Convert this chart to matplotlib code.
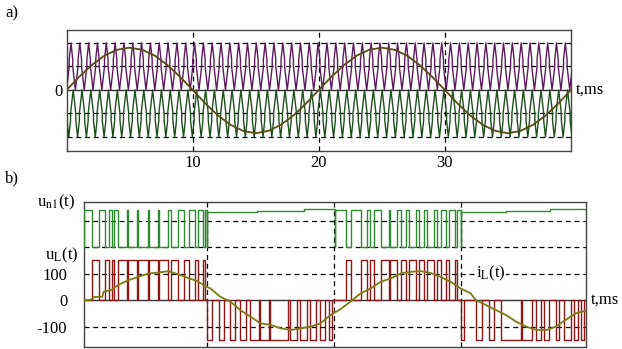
import numpy as np
import matplotlib
matplotlib.use("Agg")
import matplotlib.pyplot as plt

plt.rcParams['font.family'] = ['Liberation Serif', 'DejaVu Serif']
plt.rcParams['mathtext.fontset'] = 'stix'
FS = 12

# ---- panel a data ----
t_ref = list(range(0, 41))
ref_sine = [0, 0.56, 1.06, 1.46, 1.71, 1.8, 1.71, 1.46, 1.06, 0.56,
            0, -0.57, -1.08, -1.48, -1.74, -1.84, -1.74, -1.48, -1.08, -0.57,
            0, 0.56, 1.06, 1.46, 1.71, 1.8, 1.71, 1.46, 1.06, 0.56,
            0, -0.57, -1.08, -1.48, -1.74, -1.84, -1.74, -1.48, -1.08, -0.57, 0]
carrier_period = 0.7   # ms
carrier_shape_x = [0, 0.3, 0.3, 0.5, 0.7, 0.7, 1.0]
carrier_shape_y = [0, 1.0, 1.3, 2.0, 1.3, 1.0, 0]

# ---- panel b data ----
green_on_1 = [(0.25, 0.85), (1.44, 1.91), (2.23, 2.44), (2.65, 2.96), (3.68, 3.74),
              (4.47, 4.52), (5.32, 5.37), (6.11, 6.16), (6.86, 7.13), (7.71, 8.18),
              (8.55, 9.03), (9.29, 9.68), (9.82, 10.0)]
green_on_3 = [(20.04, 20.91), (21.36, 22.1), (22.62, 22.83), (23.15, 23.68), (24.38, 24.44),
              (25.0, 25.26), (25.65, 25.91), (26.44, 26.7), (27.1, 27.37), (27.89, 28.16),
              (28.42, 28.81), (29.07, 29.52), (29.74, 30.0)]
green_flat = [(10.0, 13.9, 333), (13.9, 17.6, 337), (17.6, 20.04, 342),
              (30.0, 33.6, 333), (33.6, 37.1, 337), (37.1, 39.9, 342)]
red_neg_2 = [(10.0, 10.37), (10.9, 11.29), (11.82, 12.21), (12.56, 13.08), (13.35, 14.06),
             (14.14, 14.85), (14.98, 16.35), (16.51, 17.09), (17.35, 17.83), (18.14, 18.54),
             (18.93, 19.25), (19.59, 19.86)]
red_neg_4 = [(30.0, 30.26), (31.19, 31.72), (32.24, 32.63), (33.16, 34.74), (34.88, 35.67),
             (35.93, 36.32), (36.59, 36.98), (37.51, 37.77), (38.17, 38.7), (38.97, 39.24),
             (39.49, 39.75)]
t_iL = [0.25, 0.75, 1.1, 1.7, 1.8, 2.4, 2.96, 3.76, 4.55, 5.34, 6.13, 6.92, 7.71, 8.2, 9.16,
        9.95, 10.24, 11.03, 11.82, 12.6, 13.4, 14.2, 15.0, 15.8, 16.6, 17.35, 18.14, 18.93,
        19.72, 20.5, 21.3, 22.1, 22.9, 23.7, 24.5, 25.3, 26.1, 26.9, 27.7, 28.4, 29.2, 30.0,
        30.8, 31.2, 32.0, 32.8, 33.6, 34.4, 35.2, 36.0, 36.8, 37.5, 38.3, 39.1, 39.9]
iL = [0, 0, 12, 12, 31, 38, 57, 75, 88, 100, 104, 109, 97, 88, 72,
      50, 44, 12, -6, -38, -63, -88, -94, -107, -113, -107, -101, -88,
      -57, -35, -6, 25, 44, 69, 82, 101, 107, 109, 101, 88, 69, 44,
      25, 0, -19, -38, -57, -82, -101, -113, -113, -101, -75, -50, -40]


def pulses(intervals, lo, hi):
    xs, ys = [], []
    for a, b in intervals:
        xs += [a, a, b, b]
        ys += [lo, hi, hi, lo]
    return xs, ys


def complement(intervals, start, stop):
    out = []
    prev = start
    for a, b in intervals:
        if a > prev:
            out.append((prev, a))
        prev = b
    if prev < stop:
        out.append((prev, stop))
    return out


fig = plt.figure(figsize=(6.22, 3.49), dpi=100)
grid_kw = dict(color='black', lw=0.9, ls=(0, (4, 3)), zorder=1)

# ---------------- panel a ----------------
ax1 = fig.add_axes([0.107, 0.567, 0.811, 0.347])
ax1.set_xlim(0, 40)
ax1.set_ylim(-2.6, 2.55)
for lev in [-2, -1, 1, 2]:
    ax1.axhline(lev, **grid_kw)
for tv in [10, 20, 30]:
    ax1.axvline(tv, **grid_kw)
ax1.axhline(0, color='#333333', lw=1.0, zorder=2)

n_per = int(40 / carrier_period) + 2
cx, cy = [], []
for k in range(n_per):
    for sx, sy in zip(carrier_shape_x, carrier_shape_y):
        cx.append((k + sx) * carrier_period)
        cy.append(sy)
cx = np.array(cx)
cy = np.array(cy)
ax1.plot(cx, cy, color='#5e1a5e', lw=1.0, zorder=3)
ax1.plot(cx - 0.25 * carrier_period, -cy, color='#1e4f1e', lw=1.0, zorder=3)
ax1.plot(t_ref, ref_sine, color='#5a4a14', lw=1.3, zorder=4)

ax1.set_xticks([10, 20, 30])
ax1.set_xticklabels(['10', '20', '30'], fontsize=FS)
ax1.set_yticks([0])
ax1.set_yticklabels(['0'], fontsize=FS)
ax1.tick_params(length=0, pad=3)
for s in ax1.spines.values():
    s.set_color('#444444')
    s.set_linewidth(1.0)
ax1.text(40.4, 0, 't,ms', fontsize=FS, va='center', ha='left')
fig.text(0.008, 0.962, 'a)', fontsize=FS, va='center')

# ---------------- panel b ----------------
ax2 = fig.add_axes([0.135, 0.006, 0.807, 0.415])
ax2.set_xlim(0.25, 39.9)
ax2.set_ylim(-177, 370)
for lev in [-100, 100, 200, 300]:
    ax2.axhline(lev, **grid_kw)
for tv in [10, 20, 30]:
    ax2.axvline(tv, **grid_kw)
ax2.axhline(0, color='#333333', lw=1.0, zorder=2)

# u_n1(t)
gx, gy = [0.25], [200]
for iv, (a, b) in zip([green_on_1, None, green_on_3, None],
                      [(0.25, 10.0), (10.0, 20.04), (20.04, 30.0), (30.0, 39.9)]):
    if iv is not None:
        px, py = pulses(iv, 200, 340)
        gx += px
        gy += py
    else:
        for fa, fb, fl in green_flat:
            if fa >= a - 1e-9 and fb <= b + 1e-9:
                gx += [fa, fb]
                gy += [fl, fl]
ax2.plot(gx, gy, color='#2e8a2e', lw=1.0, zorder=3)

# u_L(t)
rx, ry = [0.25], [0]
px, py = pulses(complement(green_on_1, 0.25, 10.0), 0, 150)
rx += px; ry += py
px, py = pulses(red_neg_2, 0, -150)
rx += px; ry += py
px, py = pulses(complement(green_on_3, 20.04, 30.0), 0, 150)
rx += px; ry += py
px, py = pulses(red_neg_4, 0, -150)
rx += px; ry += py
rx.append(39.9); ry.append(0)
ax2.plot(rx, ry, color='#8b1616', lw=1.0, zorder=3)

# i_L(t)
ax2.plot(t_iL, iL, color='#7e7a10', lw=1.3, zorder=4)

ax2.set_xticks([])
ax2.set_yticks([-100, 0, 100])
ax2.set_yticklabels(['-100', '0', '100'], fontsize=FS)
ax2.tick_params(length=0, pad=12)
for s in ax2.spines.values():
    s.set_color('#444444')
    s.set_linewidth(1.0)
ax2.text(40.3, 0, 't,ms', fontsize=FS, va='center', ha='left')
ax2.text(31.2, 100, 'i$_{\\mathrm{L}}$(t)', fontsize=FS, va='center', ha='left',
         bbox=dict(facecolor='white', edgecolor='none', pad=0.5), zorder=5)
fig.text(0.060, 0.421, 'u$_{\\mathrm{n1}}$(t)', fontsize=FS, va='center')
fig.text(0.072, 0.267, 'u$_{\\mathrm{L}}$(t)', fontsize=FS, va='center')
fig.text(0.008, 0.488, 'b)', fontsize=FS, va='center')

fig.savefig('out.png', dpi=100)
